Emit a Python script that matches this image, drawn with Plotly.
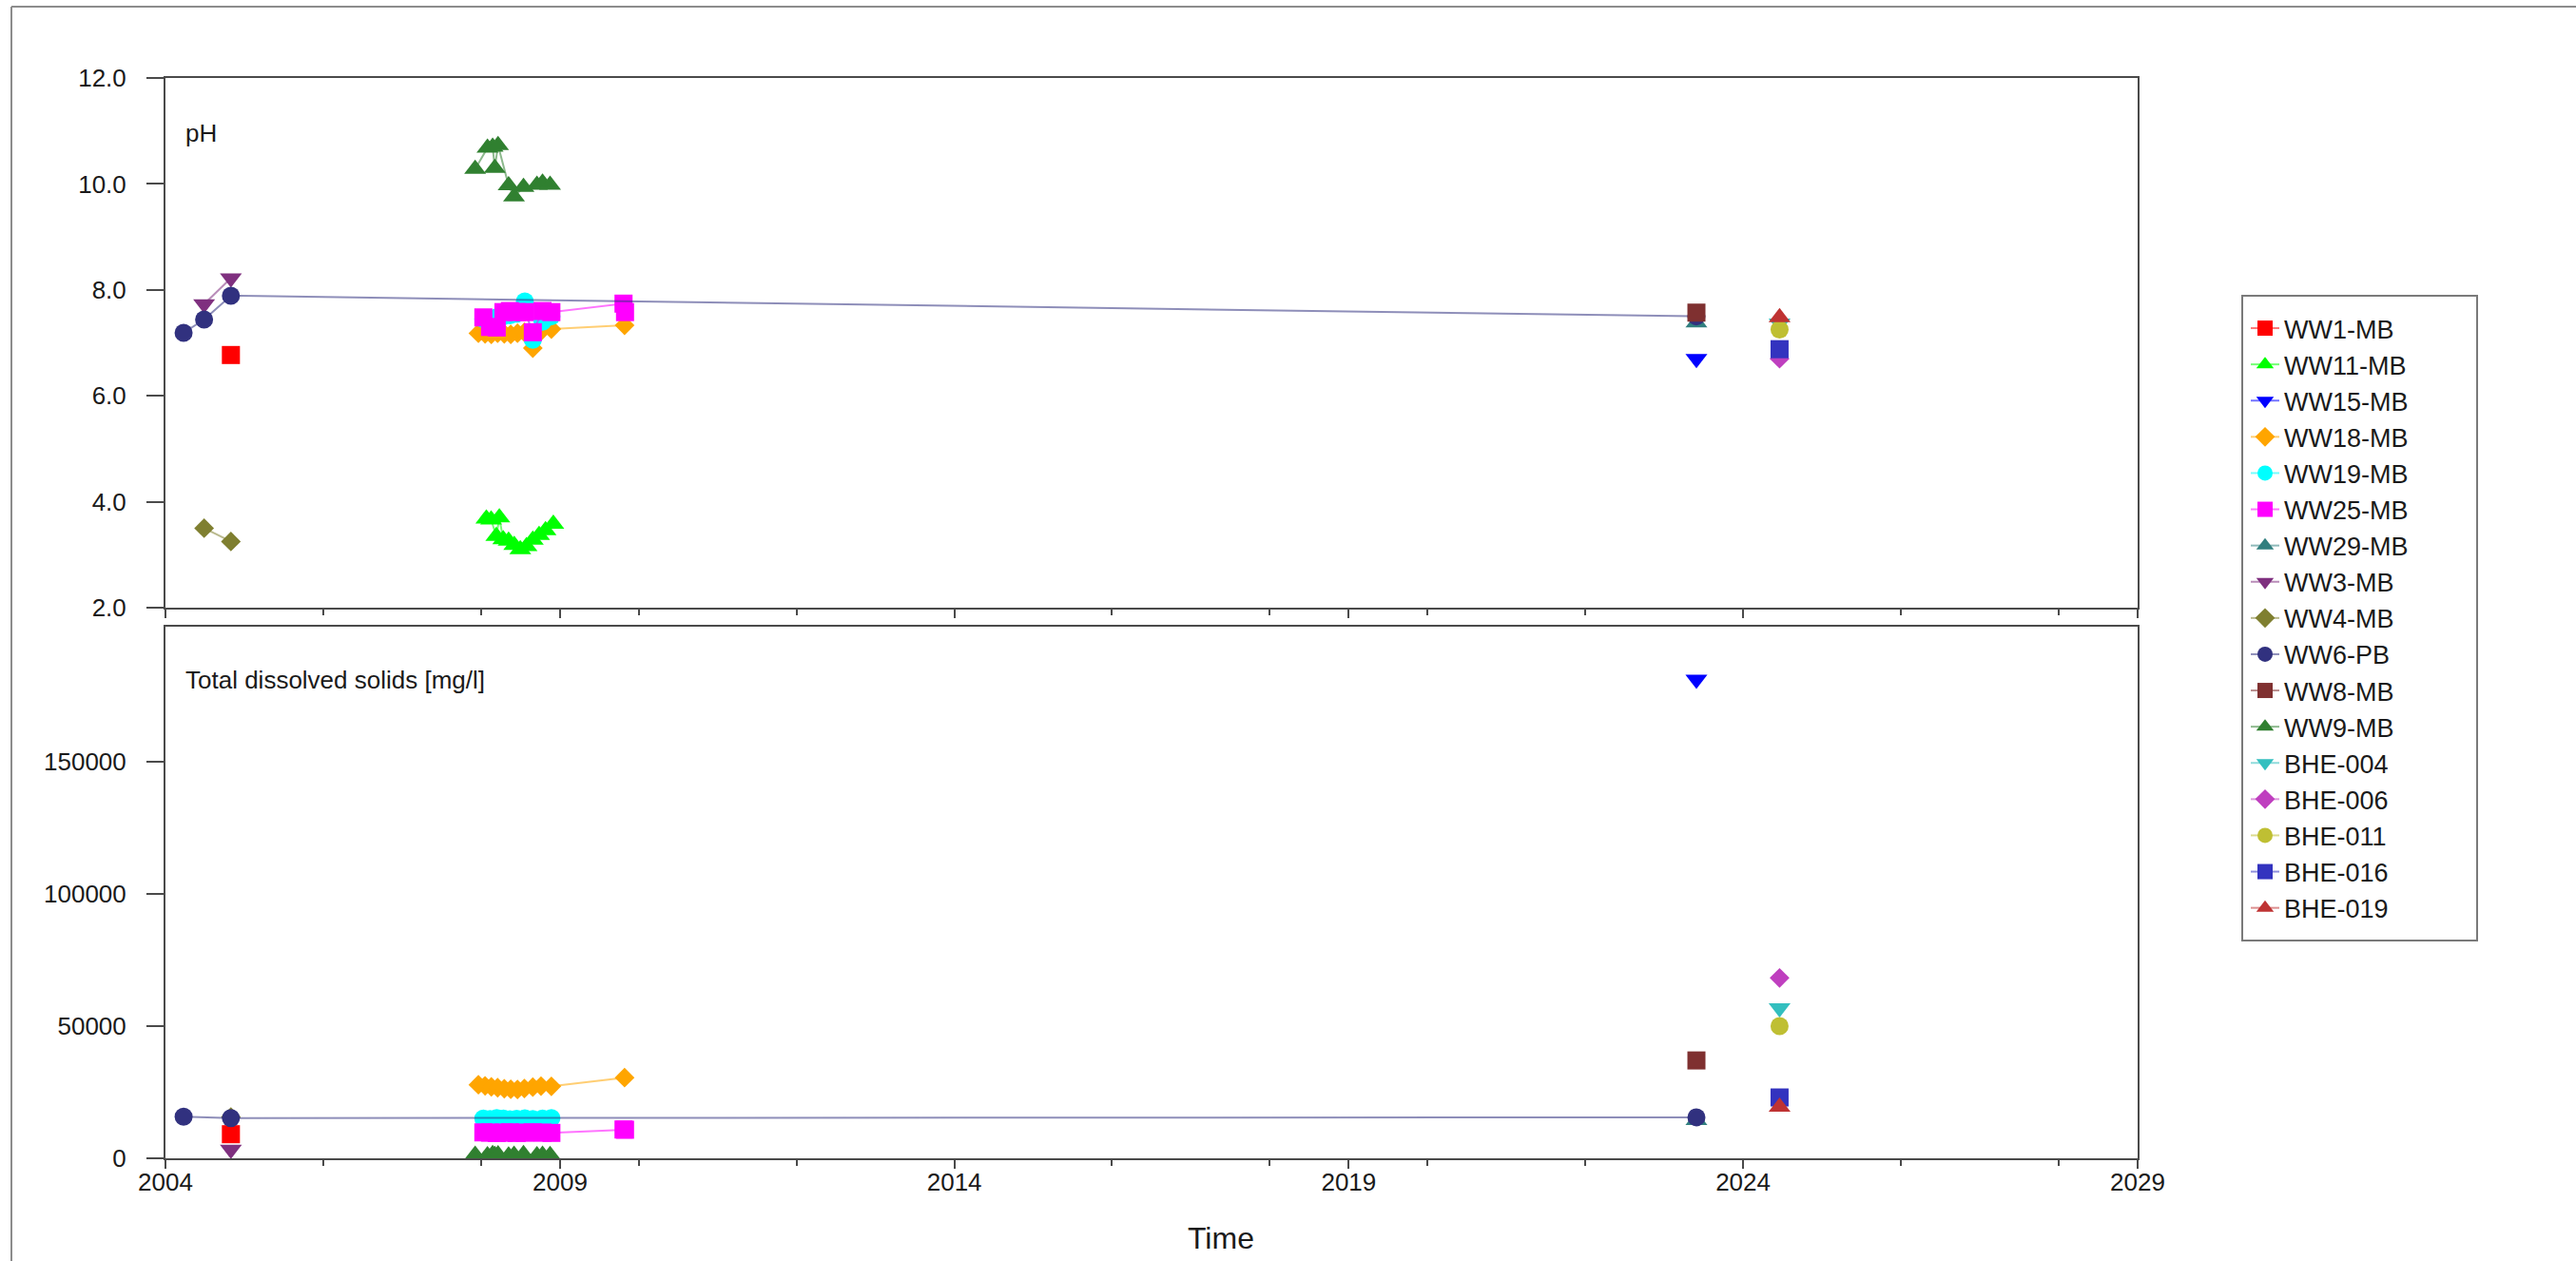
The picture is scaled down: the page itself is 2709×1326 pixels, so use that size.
import plotly.graph_objects as go

# ---------------- data ----------------
names = ["WW1-MB", "WW11-MB", "WW15-MB", "WW18-MB", "WW19-MB", "WW25-MB", "WW29-MB",
         "WW3-MB", "WW4-MB", "WW6-PB", "WW8-MB", "WW9-MB",
         "BHE-004", "BHE-006", "BHE-011", "BHE-016", "BHE-019"]

# pH sampling dates / values
ww1_ph_dates = ["2004-10-30"]
ww1_ph = [6.77]
ww11_ph_dates = ["2008-01-26", "2008-02-17", "2008-03-12", "2008-03-26", "2008-04-13", "2008-05-08",
                 "2008-06-03", "2008-07-01", "2008-07-30", "2008-08-28", "2008-09-26", "2008-10-26",
                 "2008-12-01"]
ww11_ph = [3.68, 3.66, 3.35, 3.70, 3.29, 3.26, 3.18, 3.10, 3.16, 3.28, 3.37, 3.46, 3.58]
ww15_ph_dates = ["2023-05-30"]
ww15_ph = [6.70]
ww18_dates = ["2007-12-20", "2008-01-20", "2008-02-18", "2008-03-18", "2008-04-18", "2008-05-18",
              "2008-06-18", "2008-07-20", "2008-08-28", "2008-10-05", "2008-11-22", "2009-10-27"]
ww18_ph = [7.18, 7.17, 7.16, 7.18, 7.17, 7.16, 7.18, 7.20, 6.90, 7.22, 7.26, 7.33]
ww19_dates = ["2008-01-12", "2008-02-12", "2008-03-14", "2008-04-14", "2008-05-14", "2008-06-14",
              "2008-07-22", "2008-08-28", "2008-10-12", "2008-11-22"]
ww19_ph = [7.45, 7.46, 7.48, 7.50, 7.52, 7.55, 7.78, 7.06, 7.40, 7.50]
ww25_dates = ["2008-01-12", "2008-02-12", "2008-03-14", "2008-04-14", "2008-05-14", "2008-06-14",
              "2008-07-22", "2008-08-28", "2008-10-12", "2008-11-22", "2009-10-22", "2009-10-29"]
ww25_ph = [7.48, 7.30, 7.29, 7.58, 7.60, 7.58, 7.58, 7.20, 7.60, 7.58, 7.74, 7.58]
ww29_dates = ["2023-05-30"]
ww29_ph = [7.38]
ww3_ph_dates = ["2004-06-28", "2004-10-30"]
ww3_ph = [7.73, 8.22]
ww4_ph_dates = ["2004-06-28", "2004-10-30"]
ww4_ph = [3.50, 3.25]
ww6_ph_dates = ["2004-03-25", "2004-06-28", "2004-10-30", "2023-05-30"]
ww6_ph = [7.19, 7.44, 7.89, 7.50]
ww8_dates = ["2023-05-30"]
ww8_ph = [7.57]
ww9_dates = ["2007-12-05", "2008-01-31", "2008-02-24", "2008-03-05", "2008-03-20", "2008-05-08",
             "2008-06-02", "2008-07-16", "2008-09-16", "2008-10-12", "2008-11-16"]
ww9_ph = [10.28, 10.68, 10.70, 10.30, 10.73, 9.97, 9.76, 9.94, 9.98, 10.02, 9.98]
bhe_dates = ["2024-06-18"]
bhe004_ph = [7.37]
bhe006_ph = [6.70]
bhe011_ph = [7.25]
bhe016_ph = [6.88]
bhe019_ph = [7.48]

# Total dissolved solids [mg/l]
ww1_tds_dates = ["2004-10-30"]
ww1_tds = [9100]
ww15_tds = [181000]
ww18_tds = [27800, 27400, 27000, 26700, 26300, 26100, 26000, 26400, 26900, 27300, 27200, 30500]
ww19_tds = [15000, 14800, 15200, 15000, 14700, 14900, 15100, 14800, 15000, 15200]
ww25_tds = [9800, 9700, 9600, 9700, 9800, 9600, 9700, 9800, 9700, 9600, 10900, 10800]
ww29_tds = [14400]
ww3_tds_dates = ["2004-10-30"]
ww3_tds = [3300]
ww4_tds_dates = ["2004-10-30"]
ww4_tds = [15600]
ww6_tds_dates = ["2004-03-25", "2004-10-30", "2023-05-30"]
ww6_tds = [15700, 15200, 15500]
ww8_tds = [37000]
ww9_tds = [1300, 1100, 1500, 1200, 1400, 1000, 1300, 1500, 1100, 1300, 1200]
bhe004_tds = [56800]
bhe006_tds = [68200]
bhe011_tds = [50000]
bhe016_tds = [23000]
bhe019_tds = [19400]

ph_ticks = [2, 4, 6, 8, 10, 12]
tds_ticks = [0, 50000, 100000, 150000]

# ---------------- styles ----------------
colors = ["#ff0000", "#00ff00", "#0000ff", "#ffa500", "#00ffff", "#ff00ff", "#317f7f",
          "#7f307f", "#7f7f30", "#31317f", "#7f3030", "#308030",
          "#33bfbf", "#bf3fbf", "#bfbf33", "#3333bf", "#bf3333"]
symbols = ["square", "triangle-up", "triangle-down", "diamond", "circle", "square", "triangle-up",
           "triangle-down", "diamond", "circle", "square", "triangle-up",
           "triangle-down", "diamond", "circle", "square", "triangle-up"]
sizes = {"square": 19, "circle": 19, "diamond": 16, "triangle-up": 20, "triangle-down": 20}

ph_series = [
    (ww1_ph_dates, ww1_ph), (ww11_ph_dates, ww11_ph), (ww15_ph_dates, ww15_ph),
    (ww18_dates, ww18_ph), (ww19_dates, ww19_ph), (ww25_dates, ww25_ph), (ww29_dates, ww29_ph),
    (ww3_ph_dates, ww3_ph), (ww4_ph_dates, ww4_ph), (ww6_ph_dates, ww6_ph), (ww8_dates, ww8_ph),
    (ww9_dates, ww9_ph), (bhe_dates, bhe004_ph), (bhe_dates, bhe006_ph), (bhe_dates, bhe011_ph),
    (bhe_dates, bhe016_ph), (bhe_dates, bhe019_ph),
]
tds_series = [
    (ww1_tds_dates, ww1_tds), ([], []), (ww15_ph_dates, ww15_tds),
    (ww18_dates, ww18_tds), (ww19_dates, ww19_tds), (ww25_dates, ww25_tds), (ww29_dates, ww29_tds),
    (ww3_tds_dates, ww3_tds), (ww4_tds_dates, ww4_tds), (ww6_tds_dates, ww6_tds), (ww8_dates, ww8_tds),
    (ww9_dates, ww9_tds), (bhe_dates, bhe004_tds), (bhe_dates, bhe006_tds), (bhe_dates, bhe011_tds),
    (bhe_dates, bhe016_tds), (bhe_dates, bhe019_tds),
]


def rgba(hexc, a):
    h = hexc.lstrip("#")
    return "rgba(%d,%d,%d,%.2f)" % (int(h[0:2], 16), int(h[2:4], 16), int(h[4:6], 16), a)


fig = go.Figure()
for i, name in enumerate(names):
    marker = dict(color=colors[i], symbol=symbols[i], size=sizes[symbols[i]], line=dict(width=0))
    line = dict(color=rgba(colors[i], 0.55), width=2)
    fig.add_trace(go.Scatter(x=ph_series[i][0], y=ph_series[i][1], name=name, mode="lines+markers",
                             marker=marker, line=line, xaxis="x", yaxis="y", legendgroup=name))
    fig.add_trace(go.Scatter(x=tds_series[i][0], y=tds_series[i][1], name=name, mode="lines+markers",
                             marker=marker, line=line, xaxis="x2", yaxis="y2", legendgroup=name,
                             showlegend=False))

# ---------------- layout (pixel geometry) ----------------
W, H = 2709, 1326
L, R, T, B = 174, 2248, 82, 1218   # plot area in px
PW, PH = R - L, B - T


def px(x):
    return (x - L) / PW


def py(y):
    return (B - y) / PH


AX = "#4a4a4a"
FONT = "Arial, Liberation Sans, sans-serif"
tickfont = dict(family=FONT, size=26, color="#1a1a1a")

xcommon = dict(type="date", range=["2004-01-01", "2029-01-01"], tick0="2004-01-01", dtick="M60",
               tickformat="%Y", ticks="outside", ticklen=9, tickwidth=2, tickcolor=AX,
               showline=True, linewidth=2, linecolor=AX, mirror=True, showgrid=False, zeroline=False,
               minor=dict(tick0="2004-01-01", dtick="M24", ticks="outside", ticklen=6, tickwidth=2,
                          tickcolor=AX, showgrid=False),
               tickfont=tickfont)

fig.update_layout(
    width=W, height=H,
    margin=dict(l=L, r=W - R, t=T, b=H - B),
    paper_bgcolor="white", plot_bgcolor="white",
    font=dict(family=FONT, color="#1a1a1a"),
    showlegend=True,
    xaxis=dict(xcommon, anchor="y", showticklabels=False),
    xaxis2=dict(xcommon, anchor="y2", matches="x", showticklabels=True, ticklabelstandoff=-8),
    yaxis=dict(domain=[py(639), 1], range=[2, 12], tickvals=ph_ticks, tickformat=".1f",
               ticks="outside", ticklen=18, tickwidth=2, tickcolor=AX, ticklabelstandoff=16,
               showline=True, linewidth=2, linecolor=AX, mirror=True, showgrid=False, zeroline=False,
               tickfont=tickfont),
    yaxis2=dict(domain=[0, py(659)], range=[0, 201000], tickvals=tds_ticks, tickformat="d",
                ticks="outside", ticklen=18, tickwidth=2, tickcolor=AX, ticklabelstandoff=16,
                showline=True, linewidth=2, linecolor=AX, mirror=True, showgrid=False, zeroline=False,
                tickfont=tickfont),
    legend=dict(x=px(2362), y=py(321), xanchor="left", yanchor="top",
                bgcolor="rgba(0,0,0,0)", borderwidth=0,
                font=dict(family=FONT, size=27, color="#1a1a1a"), tracegroupgap=0),
    annotations=[
        dict(text="pH", x=px(193), y=py(140), xref="paper", yref="paper", xanchor="left",
             yanchor="middle", showarrow=False, font=dict(family=FONT, size=26, color="#1a1a1a")),
        dict(text="Total dissolved solids [mg/l]", x=px(193), y=py(715), xref="paper", yref="paper",
             xanchor="left", yanchor="middle", showarrow=False,
             font=dict(family=FONT, size=26, color="#1a1a1a")),
        dict(text="Time", x=px(1284), y=py(1302), xref="paper", yref="paper", xanchor="center",
             yanchor="middle", showarrow=False, font=dict(family=FONT, size=32, color="#1a1a1a")),
    ],
    shapes=[
        # legend frame
        dict(type="rect", xref="paper", yref="paper", x0=px(2358), x1=px(2605), y0=py(989), y1=py(311),
             line=dict(color="#7a7a7a", width=2), fillcolor="rgba(0,0,0,0)", layer="below"),
        # outer page frame (top and left edges)
        dict(type="line", xref="paper", yref="paper", x0=px(12), x1=px(2760), y0=py(7), y1=py(7),
             line=dict(color="#8c8c8c", width=2)),
        dict(type="line", xref="paper", yref="paper", x0=px(12), x1=px(12), y0=py(7), y1=py(1380),
             line=dict(color="#8c8c8c", width=2)),
    ],
)

fig.write_html("out.html", config={"displayModeBar": False},
               post_script="document.body.style.margin='0';document.body.style.overflow='hidden';")
